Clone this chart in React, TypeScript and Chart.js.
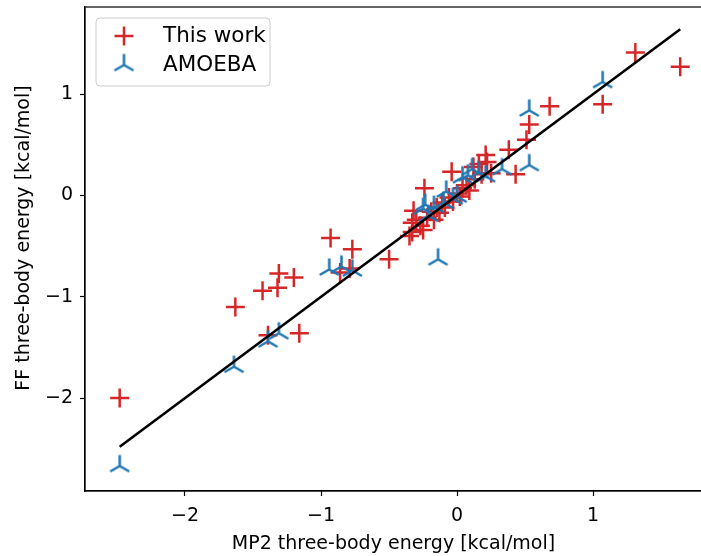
import React, { useEffect, useRef } from "react";
import { Chart, registerables } from "chart.js";

Chart.register(...registerables);

// ---- data (MP2 reference vs force-field three-body energies, kcal/mol) ----
const thisWorkMP2 = [
  -2.48, -1.63, -1.43, -1.39, -1.32, -1.31, -1.2, -1.16, -0.93, -0.86, -0.79, -0.77,
  -0.5, -0.35, -0.33, -0.33, -0.32, -0.3, -0.27, -0.25, -0.24, -0.22, -0.19, -0.17,
  -0.15, -0.13, -0.11, -0.09, -0.06, -0.04, -0.03, 0.0, 0.02, 0.04, 0.07, 0.09, 0.12,
  0.13, 0.16, 0.18, 0.21, 0.22, 0.25, 0.38, 0.43, 0.51, 0.53, 0.68, 1.07, 1.31, 1.64,
];
const thisWorkFF = [
  -2.0, -1.1, -0.94, -1.38, -0.91, -0.77, -0.81, -1.36, -0.42, -0.76, -0.72, -0.53,
  -0.63, -0.4, -0.36, -0.27, -0.15, -0.24, -0.3, -0.34, 0.07, -0.22, -0.16, -0.24,
  -0.12, -0.17, -0.07, -0.12, -0.02, 0.235, -0.06, 0.02, -0.01, 0.07, 0.1, 0.05, 0.28,
  0.16, 0.31, 0.21, 0.4, 0.33, 0.22, 0.45, 0.21, 0.55, 0.7, 0.88, 0.9, 1.41, 1.27,
];
const amoebaMP2 = [
  -2.48, -1.64, -1.39, -1.31, -0.94, -0.85, -0.77, -0.25, -0.235, -0.21, -0.17, -0.14,
  -0.1, -0.08, -0.03, 0.0, 0.04, 0.08, 0.11, 0.16, 0.21, 0.33, 0.53, 0.53, 1.07,
];
const amoebaFF = [
  -2.67, -1.69, -1.44, -1.36, -0.73, -0.7, -0.74, -0.13, -0.09, -0.2, -0.11, -0.63,
  -0.07, 0.04, -0.03, -0.01, 0.18, 0.2, 0.26, 0.23, 0.19, 0.26, 0.3, 0.84, 1.12,
];
const seriesLabels = ["This work", "AMOEBA"];
const xTicks = [-2, -1, 0, 1];
const yTicks = [-2, -1, 0, 1];
const xLimits = [-2.735, 1.8];
const yLimits = [-2.917, 1.86];
const xTitle = "MP2 three-body energy [kcal/mol]";
const yTitle = "FF three-body energy [kcal/mol]";

const RED = "#d62728";
const BLUE = "#1f77b4";
const FONT = "'DejaVu Sans', sans-serif";
const AXIS_FONT = 19;
const LEGEND_FONT = 21.5;

function makeTri(color: string, r: number, lw: number) {
  const c = document.createElement("canvas");
  const s = Math.ceil(2 * r + 2 * lw);
  c.width = s;
  c.height = s;
  const ctx = c.getContext("2d")!;
  const cx = s / 2;
  const cy = s / 2;
  ctx.strokeStyle = color;
  ctx.lineWidth = lw;
  ctx.lineCap = "butt";
  ctx.beginPath();
  ctx.moveTo(cx, cy);
  ctx.lineTo(cx, cy - r);
  ctx.moveTo(cx, cy);
  ctx.lineTo(cx - 0.866 * r, cy + 0.5 * r);
  ctx.moveTo(cx, cy);
  ctx.lineTo(cx + 0.866 * r, cy + 0.5 * r);
  ctx.stroke();
  return c;
}

const fmt = (v: number | string) => {
  const n = Number(v);
  return n < 0 ? "\u2212" + Math.abs(n) : String(n);
};

export default function App() {
  const ref = useRef<HTMLCanvasElement | null>(null);

  useEffect(() => {
    if (!ref.current) return;
    const tri = makeTri(BLUE, 11, 2.5);
    const lo = Math.min(...thisWorkMP2);
    const hi = Math.max(...thisWorkMP2);

    const framePlugin = {
      id: "frameAndLegend",
      afterDatasetsDraw(chart: any) {
        const { ctx, chartArea: a } = chart;
        ctx.save();
        ctx.strokeStyle = "#000";
        ctx.lineWidth = 1.2;
        ctx.strokeRect(a.left, a.top, a.right - a.left, a.bottom - a.top);

        // y-axis title
        ctx.save();
        ctx.translate(24, a.top + 231);
        ctx.rotate(-Math.PI / 2);
        ctx.fillStyle = "#000";
        ctx.font = `${AXIS_FONT}px ${FONT}`;
        ctx.textAlign = "center";
        ctx.textBaseline = "middle";
        ctx.fillText(yTitle, 0, 0);
        ctx.restore();

        // legend box
        const bx = a.left + 11;
        const by = a.top + 11;
        const bw = 174;
        const bh = 68;
        const rr = 4;
        ctx.beginPath();
        ctx.moveTo(bx + rr, by);
        ctx.lineTo(bx + bw - rr, by);
        ctx.arcTo(bx + bw, by, bx + bw, by + rr, rr);
        ctx.lineTo(bx + bw, by + bh - rr);
        ctx.arcTo(bx + bw, by + bh, bx + bw - rr, by + bh, rr);
        ctx.lineTo(bx + rr, by + bh);
        ctx.arcTo(bx, by + bh, bx, by + bh - rr, rr);
        ctx.lineTo(bx, by + rr);
        ctx.arcTo(bx, by, bx + rr, by, rr);
        ctx.closePath();
        ctx.fillStyle = "rgba(255,255,255,0.8)";
        ctx.fill();
        ctx.strokeStyle = "#cccccc";
        ctx.lineWidth = 1;
        ctx.stroke();

        const mx = bx + 28;
        const tx = bx + 67;
        const rows = [by + 18, by + 47];
        ctx.strokeStyle = RED;
        ctx.lineWidth = 2.5;
        ctx.beginPath();
        ctx.moveTo(mx - 9.5, rows[0]);
        ctx.lineTo(mx + 9.5, rows[0]);
        ctx.moveTo(mx, rows[0] - 9.5);
        ctx.lineTo(mx, rows[0] + 9.5);
        ctx.stroke();
        ctx.drawImage(tri, mx - tri.width / 2, rows[1] - tri.height / 2);

        ctx.fillStyle = "#000";
        ctx.font = `${LEGEND_FONT}px ${FONT}`;
        ctx.textBaseline = "middle";
        ctx.textAlign = "left";
        ctx.fillText(seriesLabels[0], tx, rows[0]);
        ctx.fillText(seriesLabels[1], tx, rows[1]);
        ctx.restore();
      },
    };

    const chart = new Chart(ref.current, {
      type: "scatter",
      data: {
        datasets: [
          {
            type: "line",
            label: "y = x",
            data: [
              { x: lo, y: lo },
              { x: hi, y: hi },
            ],
            borderColor: "#000",
            borderWidth: 2.6,
            pointRadius: 0,
            fill: false,
            order: 1,
          } as any,
          {
            label: seriesLabels[1],
            data: amoebaMP2.map((x, i) => ({ x, y: amoebaFF[i] })),
            pointStyle: tri as any,
            pointRadius: 11,
            borderColor: BLUE,
            backgroundColor: BLUE,
            order: 2,
          },
          {
            label: seriesLabels[0],
            data: thisWorkMP2.map((x, i) => ({ x, y: thisWorkFF[i] })),
            pointStyle: "cross",
            pointRadius: 9.5,
            borderWidth: 2.5,
            borderColor: RED,
            backgroundColor: RED,
            order: 3,
          },
        ],
      },
      options: {
        animation: false,
        responsive: false,
        devicePixelRatio: 1,
        layout: { autoPadding: false, padding: { left: 0, top: 7, right: 1, bottom: 0 } },
        plugins: {
          legend: { display: false },
          tooltip: { enabled: false },
        },
        scales: {
          x: {
            type: "linear",
            min: xLimits[0],
            max: xLimits[1],
            afterBuildTicks: (s: any) => {
              s.ticks = xTicks.map((v) => ({ value: v }));
            },
            afterFit: (s: any) => {
              s.height = 65;
              s.paddingLeft = 0;
              s.paddingRight = 0;
            },
            grid: {
              display: true,
              drawOnChartArea: false,
              drawTicks: true,
              tickLength: 5,
              tickColor: "#000",
              tickWidth: 1.2,
            },
            border: { display: true, color: "#000", width: 1.2 },
            ticks: {
              color: "#000",
              font: { family: FONT, size: AXIS_FONT },
              padding: 9,
              maxRotation: 0,
              autoSkip: false,
              callback: fmt,
            },
            title: {
              display: true,
              text: xTitle,
              color: "#000",
              font: { family: FONT, size: AXIS_FONT },
              padding: { top: 0, bottom: 1 },
            },
          },
          y: {
            type: "linear",
            min: yLimits[0],
            max: yLimits[1],
            afterBuildTicks: (s: any) => {
              s.ticks = yTicks.map((v) => ({ value: v }));
            },
            afterFit: (s: any) => {
              s.width = 85;
              s.paddingTop = 0;
              s.paddingBottom = 0;
            },
            grid: {
              display: true,
              drawOnChartArea: false,
              drawTicks: true,
              tickLength: 5,
              tickColor: "#000",
              tickWidth: 1.2,
            },
            border: { display: true, color: "#000", width: 1.2 },
            ticks: {
              color: "#000",
              font: { family: FONT, size: AXIS_FONT },
              padding: 7,
              autoSkip: false,
              callback: fmt,
            },
            title: { display: false },
          },
        },
      },
      plugins: [framePlugin],
    });
    return () => chart.destroy();
  }, []);

  return (
    <div
      style={{
        position: "absolute",
        left: 0,
        top: 0,
        width: 701,
        height: 556,
        overflow: "hidden",
        background: "#fff",
      }}
    >
      <canvas ref={ref} width={703} height={556} style={{ display: "block" }} />
    </div>
  );
}
